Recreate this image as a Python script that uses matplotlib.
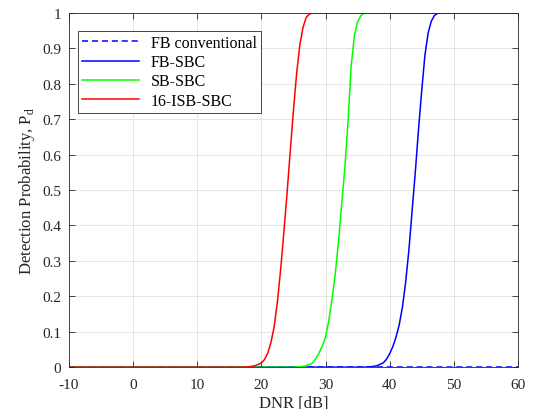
import numpy as np
import matplotlib
matplotlib.use('Agg')
import matplotlib.pyplot as plt

plt.rcParams['font.family'] = ['Liberation Serif', 'DejaVu Serif']
plt.rcParams['mathtext.fontset'] = 'custom'
plt.rcParams['mathtext.rm'] = 'Liberation Serif'
plt.rcParams['axes.unicode_minus'] = False

# values
dnr_conv = [-10, 60]
pd_conv = [0, 0]

dnr_fb = [-10, 36, 37, 38, 39, 39.5, 40, 40.5, 41, 41.5, 42, 42.5, 43, 43.5, 44,
          44.5, 45, 45.5, 46, 46.5, 47, 47.5, 48, 60]
pd_fb = [0, 0, 0.001, 0.004, 0.012, 0.022, 0.038, 0.058, 0.085, 0.12, 0.17, 0.24,
         0.33, 0.44, 0.55, 0.67, 0.78, 0.88, 0.943, 0.977, 0.993, 0.999, 1, 1]

dnr_sb = [-10, 25, 26, 27, 28, 28.5, 29, 29.5, 30, 30.5, 31, 31.5, 32, 32.5, 33,
          33.5, 34, 34.5, 35, 35.5, 36, 36.5, 60]
pd_sb = [0, 0, 0.001, 0.004, 0.012, 0.025, 0.04, 0.06, 0.085, 0.13, 0.19, 0.26,
         0.35, 0.455, 0.56, 0.69, 0.85, 0.935, 0.975, 0.992, 0.999, 1, 1]

dnr_isb = [-10, 17, 18, 19, 20, 20.5, 21, 21.5, 22, 22.5, 23, 23.5, 24, 24.5, 25,
           25.5, 26, 26.5, 27, 27.5, 28, 60]
pd_isb = [0, 0, 0.001, 0.004, 0.012, 0.022, 0.04, 0.07, 0.115, 0.185, 0.275, 0.38,
          0.49, 0.61, 0.725, 0.83, 0.91, 0.96, 0.988, 0.997, 1, 1]

xticks = np.arange(-10, 61, 10)
yticks = np.round(np.arange(0, 1.01, 0.1), 1)
ytick_labels = ['0'] + ['%.1f' % v for v in yticks[1:-1]] + ['1']

fig = plt.figure(figsize=(5.35, 4.10), dpi=100)
ax = fig.add_axes([0.129, 0.102, 0.839, 0.864])

lw = 1.1
ax.plot(dnr_conv, pd_conv, '--', color='blue', lw=lw, dashes=(4, 2.5), label='FB conventional')
ax.plot(dnr_fb, pd_fb, color='blue', lw=lw, label='FB-SBC')
ax.plot(dnr_sb, pd_sb, color=(0, 1, 0), lw=lw, label='SB-SBC')
ax.plot(dnr_isb, pd_isb, color='red', lw=lw, label='16-ISB-SBC')

ax.set_xlim(-10, 60)
ax.set_ylim(0, 1)
ax.set_xticks(xticks)
ax.set_yticks(yticks)
ax.set_yticklabels(ytick_labels)
ax.grid(True, color='#e0e0e0', lw=0.6)
ax.tick_params(direction='in', top=True, right=True, labelsize=11, colors='#262626',
               length=4, width=0.6)
ax.tick_params(axis='x', pad=8)
ax.tick_params(axis='y', pad=5.5)
for s in ax.spines.values():
    s.set_color('#262626')
    s.set_linewidth(0.6)

ax.set_xlabel('DNR [dB]', fontsize=12, color='#262626', labelpad=3)
ax.set_ylabel('Detection Probability, P$_\\mathregular{d}$', fontsize=12, color='#262626',
              labelpad=4)

leg = ax.legend(loc='upper left', fontsize=11.5, handlelength=3.6, handletextpad=0.7,
                borderpad=0.25, labelspacing=0.2, fancybox=False, borderaxespad=0,
                bbox_to_anchor=(0.020, 0.949))
leg.get_frame().set_edgecolor('#262626')
leg.get_frame().set_linewidth(0.6)
leg.get_frame().set_alpha(1)

fig.savefig('out.png', dpi=100)
